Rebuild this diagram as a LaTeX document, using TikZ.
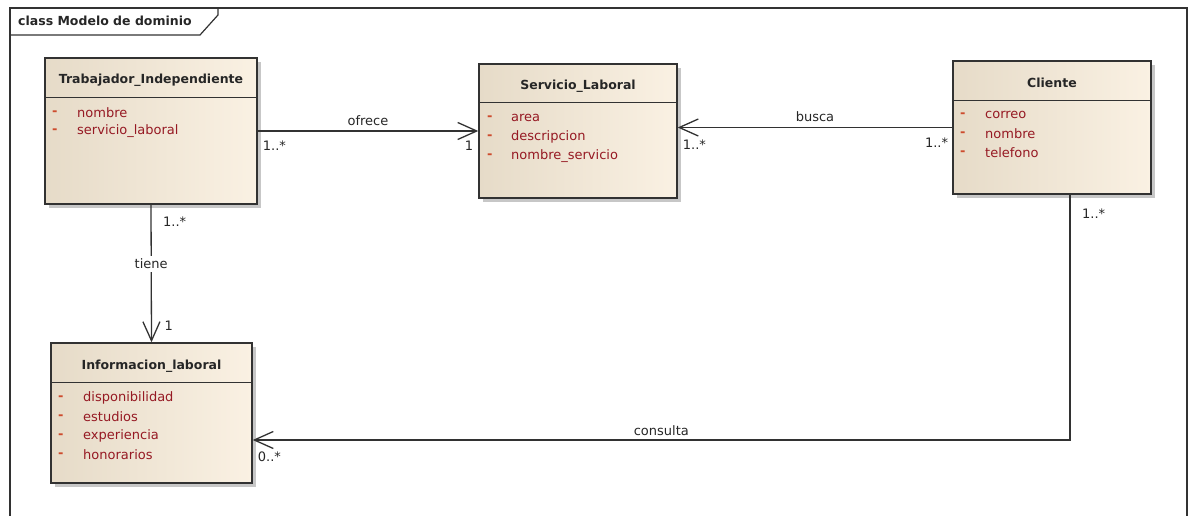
\documentclass[tikz,border=0pt]{standalone}
\usepackage{fontspec}
\setmainfont{DejaVu Sans}
\usetikzlibrary{arrows.meta,calc,positioning,shadows}
\definecolor{boxleft}{RGB}{230,219,200}
\definecolor{boxright}{RGB}{250,241,227}
\definecolor{attrred}{RGB}{150,25,35}
\definecolor{dashred}{RGB}{205,75,45}
\definecolor{linegray}{RGB}{50,50,50}
\tikzset{>={Straight Barb[length=19pt,width=17pt,line width=1.3pt]}}
\tikzset{
  classbox/.style={draw=linegray, line width=1.4pt, left color=boxleft, right color=boxright,
    inner sep=0pt, drop shadow={shadow xshift=4pt, shadow yshift=-4pt, fill=black!22, opacity=1}},
  classname/.style={font=\fontsize{12.5}{15}\selectfont\bfseries, text=black!85, inner sep=0pt},
  attr/.style={font=\fontsize{13}{15}\selectfont, text=attrred, anchor=west, inner sep=0pt},
  dashmark/.style={font=\fontsize{13}{15}\selectfont\bfseries, text=dashred, anchor=west, inner sep=0pt},
  assoc/.style={draw=linegray, line width=1.3pt},
  mult/.style={font=\fontsize{13}{15}\selectfont, text=black!85, inner sep=0pt},
}

\begin{document}
\begin{tikzpicture}[x=1pt,y=-1pt]
	\useasboundingbox (0,0) rectangle (1189,516);
	% frame
	\draw[linegray, line width=1.6pt] (10,540)--(10,8)--(1187,8)--(1187,540);
	\draw[linegray, line width=1.2pt] (10,35)--(200,35)--(218,15)--(218,8);
	\node[classname, anchor=west] (title) at (18,21) {class Modelo de dominio};

	% classes
	\node[classbox, minimum width=212, minimum height=146] (trab) at (151,131) {};
	\draw[linegray, line width=1.4pt] ($(trab.north west)+(0,40)$)--($(trab.north east)+(0,40)$);
	\node[classname] (trab-name) at (151,80) {Trabajador\_Independiente};
	\foreach \a [count=\i] in {nombre, servicio\_laboral} {
		\node[dashmark] (trab-d\i) at (52,{113+18*(\i-1)}) {-};
		\node[attr] (trab-a\i) at (77,{113+18*(\i-1)}) {\a};
	}

	\node[classbox, minimum width=198, minimum height=134] (serv) at (578,131) {};
	\draw[linegray, line width=1.4pt] ($(serv.north west)+(0,39)$)--($(serv.north east)+(0,39)$);
	\node[classname] (serv-name) at (578,86) {Servicio\_Laboral};
	\foreach \a [count=\i] in {area, descripcion, nombre\_servicio} {
		\node[dashmark] (serv-d\i) at (487,{118+19*(\i-1)}) {-};
		\node[attr] (serv-a\i) at (511,{118+19*(\i-1)}) {\a};
	}

	\node[classbox, minimum width=198, minimum height=133] (cli) at (1052,127.5) {};
	\draw[linegray, line width=1.4pt] ($(cli.north west)+(0,40)$)--($(cli.north east)+(0,40)$);
	\node[classname] (cli-name) at (1052,83) {Cliente};
	\foreach \a [count=\i] in {correo, nombre, telefono} {
		\node[dashmark] (cli-d\i) at (960,{115+19*(\i-1)}) {-};
		\node[attr] (cli-a\i) at (985,{115+19*(\i-1)}) {\a};
	}

	\node[classbox, minimum width=201, minimum height=140] (info) at (151.5,413) {};
	\draw[linegray, line width=1.4pt] ($(info.north west)+(0,40)$)--($(info.north east)+(0,40)$);
	\node[classname] (info-name) at (151.5,366) {Informacion\_laboral};
	\foreach \a [count=\i] in {disponibilidad, estudios, experiencia, honorarios} {
		\node[dashmark] (info-d\i) at (58,{398+19*(\i-1)}) {-};
		\node[attr] (info-a\i) at (83,{398+19*(\i-1)}) {\a};
	}

	% associations
	\draw[assoc,->] (trab.east)--(serv.west) node[mult, midway, above=5pt] (ofrece) {ofrece};
	\node[mult, below right=10pt and 5pt of trab.east] (m-ofrece-a) {1..*};
	\node[mult, below left=10pt and 5pt of serv.west] (m-ofrece-b) {1};

	\coordinate (buscaend) at (cli.west -| serv.east);
	\draw[assoc,->] (cli.west)--(buscaend) node[mult, midway, above=5pt] (busca) {busca};
	\node[mult, below right=12pt and 5pt of buscaend] (m-busca-a) {1..*};
	\node[mult, below left=10pt and 4pt of cli.west] (m-busca-b) {1..*};

	\draw[assoc,->] (trab.south)--(info.north) node[mult, pos=0.43, fill=white, inner sep=3pt] (tiene) {tiene};
	\node[mult, below right=12pt and 12pt of trab.south] (m-tiene-a) {1..*};
	\node[mult, above right=12pt and 13pt of info.north] (m-tiene-b) {1};

	\coordinate (cbend) at (1070,440);
	\coordinate (ctop) at (cli.south -| cbend);
	\coordinate (cend) at (cbend -| info.east);
	\draw[assoc,->] (ctop)--(cbend)--(cend) node[mult, midway, above=4pt] (consulta) {consulta};
	\node[mult, below right=14pt and 12pt of ctop] (m-consulta-a) {1..*};
	\node[mult, below right=12pt and 5pt of cend] (m-consulta-b) {0..*};
\end{tikzpicture}
\end{document}
